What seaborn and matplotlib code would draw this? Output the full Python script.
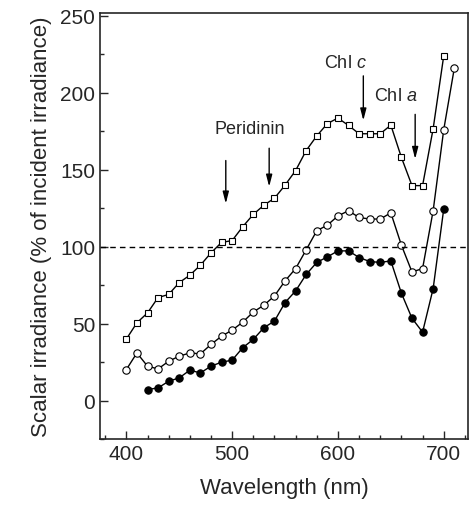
import numpy as np
import pandas as pd
import seaborn as sns
from matplotlib import pyplot as plt
from matplotlib.ticker import MultipleLocator

# wavelengths (nm) and scalar irradiance (% of incident)
wl_sq = list(range(400, 701, 10))
sq = [40, 50.6, 57, 67, 69, 76.7, 81.5, 88, 96, 102.8, 104, 113, 121, 127, 131.5, 140,
      149.5, 162.5, 172, 180, 183.6, 178.8, 173.4, 173.4, 173.4, 179, 158, 139.7, 139.7,
      176.7, 224]

wl_open = list(range(400, 711, 10))
open_c = [20.2, 31, 22.4, 20.6, 25.6, 28.9, 31, 30.4, 36.5, 41.9, 45.8, 51, 57.6, 62, 68,
          77.8, 85.8, 98, 110.4, 114, 120, 123.4, 119, 118, 118, 122, 101, 83.6, 85.8,
          123.4, 176, 216]

wl_fill = list(range(420, 701, 10))
fill_c = [7.2, 8.3, 12.6, 14.8, 19.8, 18, 22.4, 25, 26.3, 34.4, 39.8, 47.4, 51.7, 63.7,
          71.3, 82, 89.8, 93.4, 97.3, 97.3, 93, 90.4, 89.8, 90.8, 69.8, 53.5, 44.5, 72.8,
          124.5]

# pigment absorption arrows
arrow_x = [494, 535, 624, 673]
arrow_top = [156, 164, 211, 186]
arrow_bot = [128, 139, 182, 157]

sns.set_style("ticks")
plt.rcParams['font.family'] = ['Liberation Sans', 'DejaVu Sans']
plt.rcParams['mathtext.fontset'] = 'custom'
plt.rcParams['mathtext.it'] = 'Liberation Sans:italic'
plt.rcParams['mathtext.rm'] = 'Liberation Sans'

fig = plt.figure(figsize=(4.69, 5.10), dpi=100)
ax = fig.add_axes([0.213, 0.137, 0.785, 0.836])

df_sq = pd.DataFrame({'wl': wl_sq, 'E': sq})
df_open = pd.DataFrame({'wl': wl_open, 'E': open_c})
df_fill = pd.DataFrame({'wl': wl_fill, 'E': fill_c})

sns.lineplot(data=df_sq, x='wl', y='E', ax=ax, color='black', lw=1, marker='s',
             markersize=4.8, markerfacecolor='white', markeredgecolor='black',
             markeredgewidth=0.8)
sns.lineplot(data=df_open, x='wl', y='E', ax=ax, color='black', lw=1, marker='o',
             markersize=5.3, markerfacecolor='white', markeredgecolor='black',
             markeredgewidth=0.8)
sns.lineplot(data=df_fill, x='wl', y='E', ax=ax, color='black', lw=1, marker='o',
             markersize=5.3, markerfacecolor='black', markeredgecolor='black')

ax.axhline(100, color='black', ls=(0, (4, 3)), lw=1)

for x, t, b in zip(arrow_x, arrow_top, arrow_bot):
    ax.annotate('', xy=(x, b), xytext=(x, t),
                arrowprops=dict(arrowstyle='-|>,head_width=0.18,head_length=0.7',
                                color='black', lw=1, mutation_scale=10,
                                shrinkA=0, shrinkB=0))

ax.text(517, 177, 'Peridinin', fontsize=13, ha='center', va='center')
ax.text(607, 220, r'Chl $\mathit{c}$', fontsize=13, ha='center', va='center')
ax.text(655, 198, r'Chl $\mathit{a}$', fontsize=13, ha='center', va='center')

ax.set_xlim(375, 723)
ax.set_ylim(-25, 252)
ax.xaxis.set_major_locator(MultipleLocator(100))
ax.xaxis.set_minor_locator(MultipleLocator(20))
ax.yaxis.set_major_locator(MultipleLocator(50))
ax.yaxis.set_minor_locator(MultipleLocator(25))
ax.tick_params(which='both', direction='in', labelsize=15)
ax.tick_params(which='major', length=6, width=1)
ax.tick_params(which='minor', length=3, width=1)

ax.set_xlabel('Wavelength (nm)', fontsize=16, labelpad=10)
ax.set_ylabel('Scalar irradiance (% of incident irradiance)', fontsize=16, labelpad=6)

for s in ax.spines.values():
    s.set_visible(True)
    s.set_linewidth(1.2)

fig.savefig('out.png', dpi=100)
